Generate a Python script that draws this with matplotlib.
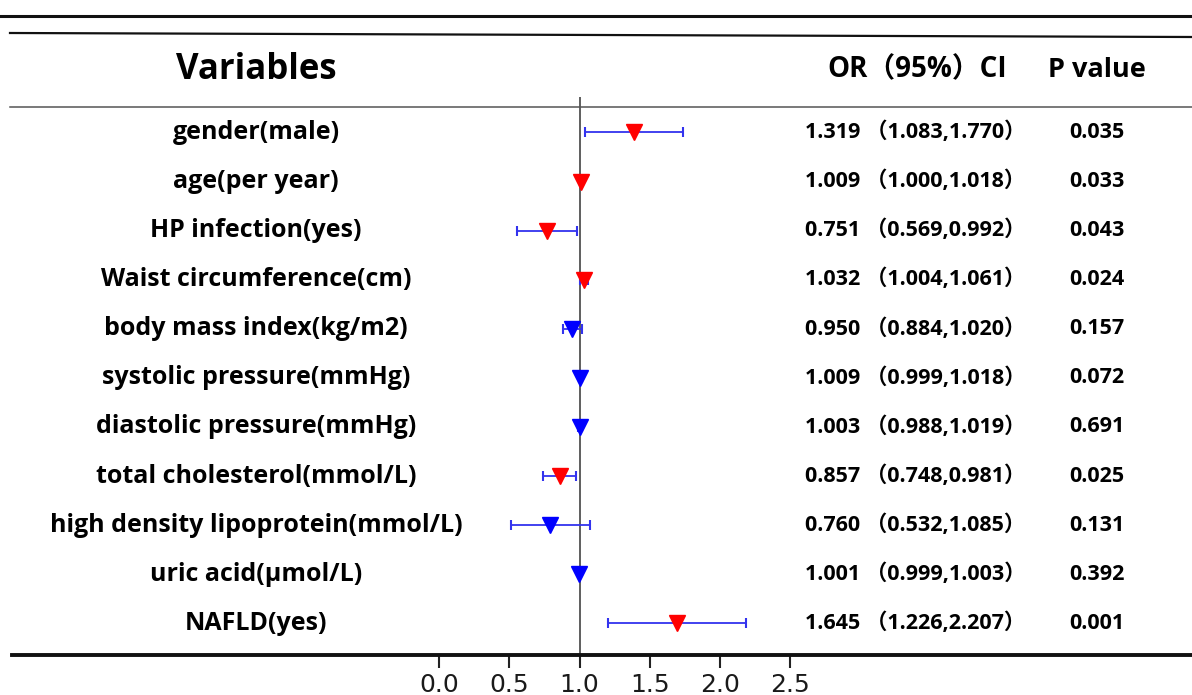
import matplotlib.pyplot as plt
from matplotlib.lines import Line2D
from matplotlib.transforms import blended_transform_factory

variables = [
    "gender(male)",
    "age(per year)",
    "HP infection(yes)",
    "Waist circumference(cm)",
    "body mass index(kg/m2)",
    "systolic pressure(mmHg)",
    "diastolic pressure(mmHg)",
    "total cholesterol(mmol/L)",
    "high density lipoprotein(mmol/L)",
    "uric acid(μmol/L)",
    "NAFLD(yes)",
]
or_text = ["1.319", "1.009", "0.751", "1.032", "0.950", "1.009", "1.003", "0.857", "0.760", "1.001", "1.645"]
ci_low_text = ["1.083", "1.000", "0.569", "1.004", "0.884", "0.999", "0.988", "0.748", "0.532", "0.999", "1.226"]
ci_high_text = ["1.770", "1.018", "0.992", "1.061", "1.020", "1.018", "1.019", "0.981", "1.085", "1.003", "2.207"]
p_values = [0.035, 0.033, 0.043, 0.024, 0.157, 0.072, 0.691, 0.025, 0.131, 0.392, 0.001]

# where the markers sit on the plotted axis
or_plot = [1.39, 1.01, 0.77, 1.03, 0.947, 1.0, 1.0, 0.861, 0.79, 0.996, 1.694]
lo_plot = [1.04, 1.0, 0.557, 1.0, 0.883, 0.995, 0.99, 0.74, 0.512, 0.995, 1.203]
hi_plot = [1.74, 1.02, 0.984, 1.06, 1.018, 1.015, 1.015, 0.975, 1.075, 1.0, 2.183]

xticks = [0.0, 0.5, 1.0, 1.5, 2.0, 2.5]

FAM = ["Open Sans", "Noto Sans CJK SC", "DejaVu Sans"]

W, H = 1192, 695
fig = plt.figure(figsize=(W / 100, H / 100), dpi=100)

ax = fig.add_axes([12 / W, (H - 655) / H, 1 - 12 / W, (655 - 97) / H])
ax.set_xlim((12 - 439) / 140.5, (1192 - 439) / 140.5)
ax.set_ylim(10.646, -0.723)

for s in ["left", "right", "top"]:
    ax.spines[s].set_visible(False)
ax.spines["bottom"].set_linewidth(2.8)
ax.spines["bottom"].set_color("#111111")
ax.set_yticks([])
ax.set_xticks(xticks)
ax.set_xticklabels([f"{t:.1f}" for t in xticks], family="DejaVu Sans", fontsize=18, color="#1a1a1a")
ax.tick_params(axis="x", direction="out", length=9, width=1.5, pad=4, color="#222222")

ax.axvline(1.0, color="#333333", lw=1.1, zorder=1)

rows = list(range(len(variables)))
for i in rows:
    c = "red" if p_values[i] < 0.05 else "blue"
    ax.errorbar(or_plot[i], i, xerr=[[or_plot[i] - lo_plot[i]], [hi_plot[i] - or_plot[i]]],
                fmt="none", ecolor="#3333ee", elinewidth=1.3, capsize=3.5, capthick=1.5, zorder=2)
    ax.plot(or_plot[i], i, marker="v", color=c, markersize=11, linestyle="none", zorder=3)

xt = blended_transform_factory(fig.transFigure, ax.transData)
for i in rows:
    ax.text(256 / W, i, variables[i], transform=xt, ha="center", va="center",
            family=FAM, fontweight="bold", fontsize=18)
    ax.text(805 / W, i, f"{or_text[i]} （{ci_low_text[i]},{ci_high_text[i]}）", transform=xt,
            ha="left", va="center", family=FAM, fontweight="bold", fontsize=15.5)
    ax.text(1097 / W, i, f"{p_values[i]:.3f}", transform=xt, ha="center", va="center",
            family=FAM, fontweight="bold", fontsize=15.5)

# header
fig.text(256 / W, 1 - 70 / H, "Variables", ha="center", va="center", family=FAM,
         fontweight="bold", fontsize=25)
fig.text(917 / W, 1 - 70 / H, "OR（95%）CI", ha="center", va="center", family=FAM,
         fontweight="bold", fontsize=20)
fig.text(1097 / W, 1 - 70 / H, "P value", ha="center", va="center", family=FAM,
         fontweight="bold", fontsize=19.5)

fig.add_artist(Line2D([0, 1], [1 - 16 / H, 1 - 16 / H], transform=fig.transFigure,
                      color="#111111", lw=2.2))
fig.add_artist(Line2D([10 / W, 1], [1 - 33 / H, 1 - 37 / H], transform=fig.transFigure,
                      color="#111111", lw=1.6))
fig.add_artist(Line2D([10 / W, 1], [1 - 107 / H, 1 - 107 / H], transform=fig.transFigure,
                      color="#555555", lw=1.1))

fig.savefig("out.png", dpi=100)
